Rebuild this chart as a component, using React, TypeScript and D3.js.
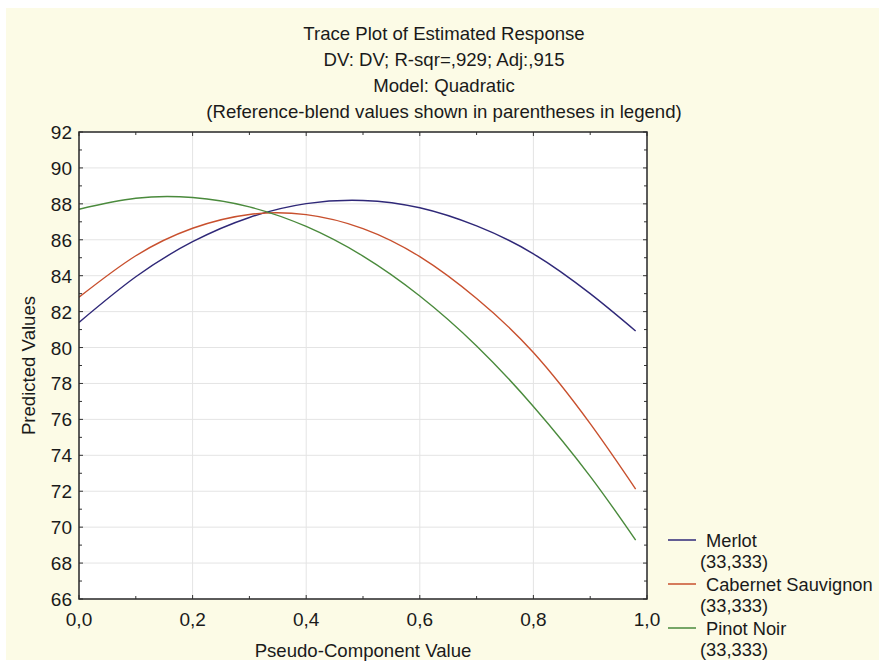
import React from 'react';
import * as d3 from 'd3';

// Pseudo-component values where the traces were read
const xValues = [0, 0.1, 0.2, 0.3, 0.4, 0.5, 0.6, 0.7, 0.8, 0.9, 0.98];

// Predicted values
const merlot = [81.4, 83.94, 85.89, 87.24, 88.01, 88.19, 87.78, 86.77, 85.22, 83.0, 80.92];
const cabernet = [82.8, 85.11, 86.64, 87.41, 87.4, 86.62, 85.06, 82.73, 79.72, 75.76, 72.12];
const pinotNoir = [87.7, 88.31, 88.35, 87.83, 86.74, 85.09, 82.87, 80.09, 76.72, 72.83, 69.28];

const seriesNames = ['Merlot', 'Cabernet Sauvignon', 'Pinot Noir'];
const seriesColors = ['#2f2878', '#c8502e', '#4a8a3c'];
const referenceBlend = ['(33,333)', '(33,333)', '(33,333)'];

const titleLines = [
  'Trace Plot of Estimated Response',
  'DV: DV; R-sqr=,929; Adj:,915',
  'Model: Quadratic',
  '(Reference-blend values shown in parentheses in legend)',
];

const yTicks = d3.range(66, 93, 2);
const xTicks = [0, 0.2, 0.4, 0.6, 0.8, 1.0];

const W = 879;
const H = 663;
const FONT = '"Liberation Sans", Arial, sans-serif';

const plot = { left: 79, right: 647, top: 132, bottom: 599 };

const fmt = (v: number) => v.toFixed(1).replace('.', ',');

export default function App() {
  const x = d3.scaleLinear().domain([0, 1]).range([plot.left, plot.right]);
  const y = d3.scaleLinear().domain([66, 92]).range([plot.bottom, plot.top]);

  const series = [merlot, cabernet, pinotNoir];
  const line = d3
    .line<number>()
    .x((_, i) => x(xValues[i]))
    .y((d) => y(d))
    .curve(d3.curveNatural);

  const xMinor = d3.range(0, 1.0001, 0.1);
  const yMinor = d3.range(66, 92.001, 1);

  return (
    <svg
      width={W}
      height={H}
      style={{ position: 'absolute', left: 0, top: 0, fontFamily: FONT }}
    >
      <rect x={0} y={0} width={W} height={H} fill="#ffffff" />
      <rect x={6} y={8} width={W - 6} height={652} fill="#fcfbe6" />

      {titleLines.map((t, i) => (
        <text key={i} x={444} y={40 + i * 26} textAnchor="middle" fontSize={18.6} fill="#1a1a1a">
          {t}
        </text>
      ))}

      <rect
        x={plot.left}
        y={plot.top}
        width={plot.right - plot.left}
        height={plot.bottom - plot.top}
        fill="#ffffff"
      />

      {/* grid */}
      {yTicks.map((t) => (
        <line key={'gy' + t} x1={plot.left} x2={plot.right} y1={y(t)} y2={y(t)} stroke="#e4e4e4" strokeWidth={1} />
      ))}
      {xTicks.map((t) => (
        <line key={'gx' + t} x1={x(t)} x2={x(t)} y1={plot.top} y2={plot.bottom} stroke="#e4e4e4" strokeWidth={1} />
      ))}

      {/* curves */}
      <defs>
        <clipPath id="plotClip">
          <rect x={plot.left} y={plot.top} width={plot.right - plot.left} height={plot.bottom - plot.top} />
        </clipPath>
      </defs>
      <g clipPath="url(#plotClip)">
        {series.map((s, i) => (
          <path key={i} d={line(s) || ''} fill="none" stroke={seriesColors[i]} strokeWidth={1.4} />
        ))}
      </g>

      {/* inward ticks */}
      {xMinor.map((t, i) => {
        const len = i % 2 === 0 ? 4 : 3;
        return (
          <g key={'tx' + i} stroke="#333" strokeWidth={1}>
            <line x1={x(t)} x2={x(t)} y1={plot.top} y2={plot.top + len} />
            <line x1={x(t)} x2={x(t)} y1={plot.bottom} y2={plot.bottom - len} />
          </g>
        );
      })}
      {yMinor.map((t, i) => {
        const len = i % 2 === 0 ? 4 : 3;
        return (
          <g key={'ty' + i} stroke="#333" strokeWidth={1}>
            <line x1={plot.left} x2={plot.left + len} y1={y(t)} y2={y(t)} />
            <line x1={plot.right} x2={plot.right - len} y1={y(t)} y2={y(t)} />
          </g>
        );
      })}

      <rect
        x={plot.left}
        y={plot.top}
        width={plot.right - plot.left}
        height={plot.bottom - plot.top}
        fill="none"
        stroke="#2a2a2a"
        strokeWidth={1.5}
      />

      {/* tick labels */}
      {yTicks.map((t) => (
        <text key={'ly' + t} x={plot.left - 7} y={y(t) + 7} textAnchor="end" fontSize={19} fill="#1a1a1a">
          {t}
        </text>
      ))}
      {xTicks.map((t) => (
        <text key={'lx' + t} x={x(t)} y={626} textAnchor="middle" fontSize={19} fill="#1a1a1a">
          {fmt(t)}
        </text>
      ))}

      {/* axis titles */}
      <text x={(plot.left + plot.right) / 2} y={657} textAnchor="middle" fontSize={18.6} fill="#1a1a1a">
        Pseudo-Component Value
      </text>
      <text
        transform={`translate(35, ${(plot.top + plot.bottom) / 2}) rotate(-90)`}
        textAnchor="middle"
        fontSize={18.6}
        fill="#1a1a1a"
      >
        Predicted Values
      </text>

      {/* legend */}
      {seriesNames.map((name, i) => {
        const base = 547 + i * 44;
        return (
          <g key={'lg' + i}>
            <line x1={668} x2={696} y1={base - 7} y2={base - 7} stroke={seriesColors[i]} strokeWidth={1.5} />
            <text x={706} y={base} fontSize={18.3} fill="#1a1a1a">
              {name}
            </text>
            <text x={700} y={base + 21} fontSize={18.3} fill="#1a1a1a">
              {referenceBlend[i]}
            </text>
          </g>
        );
      })}
    </svg>
  );
}
